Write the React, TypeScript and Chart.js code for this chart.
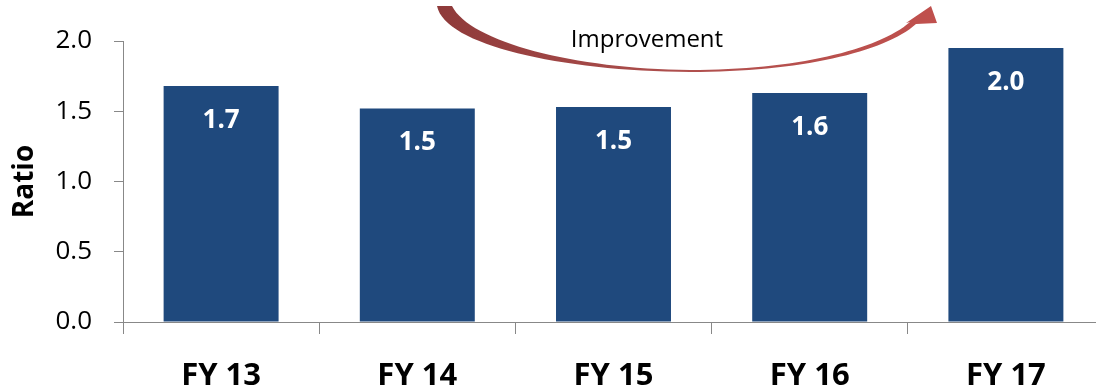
import React, { useEffect, useRef } from "react";
import { Chart, registerables } from "chart.js";

Chart.register(...registerables);

const categories = ["FY 13", "FY 14", "FY 15", "FY 16", "FY 17"];
const ratioValues = [1.68, 1.52, 1.53, 1.63, 1.95];
const valueLabels = ["1.7", "1.5", "1.5", "1.6", "2.0"];
const yTitle = "Ratio";
const arrowText = "Improvement";

const FONT = "'Open Sans', 'DejaVu Sans', sans-serif";

const valueLabelPlugin = {
  id: "valueLabelPlugin",
  afterDatasetsDraw(chart: any) {
    const ctx = chart.ctx;
    const meta = chart.getDatasetMeta(0);
    ctx.save();
    ctx.fillStyle = "#ffffff";
    ctx.font = `bold 26px ${FONT}`;
    ctx.textAlign = "center";
    ctx.textBaseline = "alphabetic";
    meta.data.forEach((bar: any, i: number) => {
      ctx.fillText(valueLabels[i], bar.x, bar.y + 42);
    });
    ctx.restore();
  },
};

const arrowPlugin = {
  id: "arrowPlugin",
  afterDraw(chart: any) {
    const ctx = chart.ctx;
    ctx.save();
    const grad = ctx.createLinearGradient(437, 0, 937, 0);
    grad.addColorStop(0, "#8E3A3A");
    grad.addColorStop(0.5, "#B0504E");
    grad.addColorStop(1, "#C0504D");
    ctx.fillStyle = grad;
    ctx.beginPath();
    ctx.moveTo(437, 6);
    ctx.bezierCurveTo(445, 45, 560, 71, 690, 72);
    ctx.bezierCurveTo(800, 72, 885, 52, 916, 24);
    ctx.lineTo(937, 23);
    ctx.lineTo(931, 6);
    ctx.lineTo(906, 23);
    ctx.lineTo(910, 22);
    ctx.bezierCurveTo(878, 50, 795, 70, 690, 70);
    ctx.bezierCurveTo(575, 69, 470, 42, 452, 6);
    ctx.closePath();
    ctx.fill();

    ctx.fillStyle = "#000000";
    ctx.font = `24px ${FONT}`;
    ctx.textAlign = "center";
    ctx.textBaseline = "alphabetic";
    ctx.fillText(arrowText, 647, 47);
    ctx.restore();
  },
};

export default function App() {
  const canvasRef = useRef<HTMLCanvasElement | null>(null);

  useEffect(() => {
    if (!canvasRef.current) return;
    const chart = new Chart(canvasRef.current, {
      type: "bar",
      data: {
        labels: categories,
        datasets: [
          {
            data: ratioValues,
            backgroundColor: "#1F497D",
            borderWidth: 0,
            barPercentage: 0.586,
            categoryPercentage: 1,
          },
        ],
      },
      options: {
        responsive: false,
        animation: false,
        events: [],
        layout: { padding: { left: 0, right: 6, top: 41, bottom: 0 } },
        plugins: {
          legend: { display: false },
          tooltip: { enabled: false },
          title: { display: false },
        },
        scales: {
          x: {
            offset: true,
            grid: {
              display: true,
              offset: true,
              drawOnChartArea: false,
              drawTicks: true,
              tickLength: 12,
              color: "#888888",
              lineWidth: 1,
            },
            border: { display: true, color: "#888888", width: 1 },
            ticks: {
              color: "#000000",
              font: { family: FONT, size: 31, weight: "bold" },
              padding: 24,
              maxRotation: 0,
            },
            afterFit(scale: any) {
              scale.height = 66;
            },
          },
          y: {
            min: 0,
            max: 2,
            grid: {
              display: true,
              drawOnChartArea: false,
              drawTicks: true,
              tickLength: 9,
              color: "#888888",
              lineWidth: 1,
            },
            border: { display: true, color: "#888888", width: 1 },
            ticks: {
              stepSize: 0.5,
              color: "#000000",
              font: { family: FONT, size: 26 },
              padding: 22,
              callback: (v: any) => Number(v).toFixed(1),
            },
            title: {
              display: true,
              text: yTitle,
              color: "#000000",
              font: { family: FONT, size: 28, weight: "bold" },
              padding: { top: 8, bottom: 0 },
            },
            afterFit(scale: any) {
              scale.width = 123;
            },
          },
        },
      },
      plugins: [valueLabelPlugin, arrowPlugin],
    });
    return () => chart.destroy();
  }, []);

  return (
    <div
      style={{
        position: "fixed",
        left: 0,
        top: 0,
        width: 1096,
        height: 388,
        overflow: "hidden",
        background: "#ffffff",
      }}
    >
      <canvas
        ref={canvasRef}
        width={1110}
        height={388}
        style={{ display: "block", width: 1110, height: 388 }}
      />
    </div>
  );
}
